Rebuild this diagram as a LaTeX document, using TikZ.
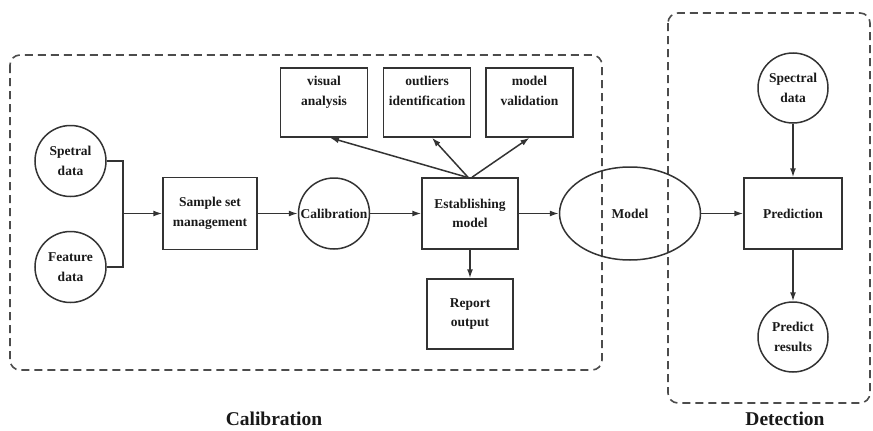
\documentclass[tikz,border=0pt]{standalone}
\usepackage{fontspec}
\setmainfont{Liberation Serif}
\usetikzlibrary{arrows.meta,shapes.geometric,calc}
\begin{document}
\begin{tikzpicture}[x=1pt,y=-1pt,
 every node/.style={font=\bfseries\fontsize{13.5}{19.5}\selectfont, text=black!90, align=center},
 ln/.style={draw=black!80, line width=1.5pt},
 arr/.style={ln, -{Latex[length=9pt,width=6pt]}},
 rbox/.style={ln, rectangle, inner sep=0pt},
 circ/.style={ln, circle, minimum size=71pt, inner sep=0pt},
 frame/.style={draw=black!70, line width=1.6pt, dash pattern=on 8pt off 5pt, rounded corners=10pt},
 big/.style={font=\bfseries\fontsize{19.5}{22}\selectfont, inner sep=0pt},
 toplbl/.style={label={[anchor=north, inner sep=0pt, yshift=-9pt]north:{#1}}}]
\useasboundingbox (0,0) rectangle (873,431);
\draw[frame] (10,55) rectangle (602,370);
\draw[frame] (668,13) rectangle (870,403);

\node[circ] (sp) at (70.5,161) {Spetral\\data};
\node[circ] (fd) at (70.5,267) {Feature\\data};
\node[rbox, minimum width=94pt, minimum height=72pt] (ssm) at (210,213.5) {Sample set\\management};
\node[circ] (cal) at (334,213.5) {Calibration};
\node[rbox, minimum width=96pt, minimum height=71pt] (est) at (470,213.5) {Establishing\\model};
\node[rbox, minimum width=86pt, minimum height=70pt] (rep) at (470,314) {Report\\output};
\node[rbox, minimum width=87pt, minimum height=69pt, toplbl={visual\\analysis}] (va) at (324,102.5) {};
\node[rbox, minimum width=87pt, minimum height=69pt, toplbl={outliers\\identification}] (oi) at (427,102.5) {};
\node[rbox, minimum width=87pt, minimum height=69pt, toplbl={model\\validation}] (mv) at (529.5,102.5) {};
\node[ln, ellipse, minimum width=141pt, minimum height=93pt, inner sep=0pt] (mod) at (630,213.5) {Model};
\node[rbox, minimum width=98pt, minimum height=71pt] (pred) at (793,213.5) {Prediction};
\node[circ, minimum size=70pt] (sd) at (793,88) {Spectral\\data};
\node[circ, minimum size=70pt] (pr) at (793,337) {Predict\\results};

\node[big] (lc) at (274,419) {Calibration};
\node[big] (ld) at (785,419) {Detection};

\coordinate (j) at (123,213.5);
\draw[ln] (sp.east) -| (j);
\draw[ln] (fd.east) -| (j);
\draw[arr] (j) -- (ssm.west);
\draw[arr] (ssm.east) -- (cal.west);
\draw[arr] (cal.east) -- (est.west);
\draw[arr] (est.east) -- (mod.west);
\draw[arr] (mod.east) -- (pred.west);
\draw[arr] (est.south) -- (rep.north);
\draw[arr] (sd.south) -- (pred.north);
\draw[arr] (pred.south) -- (pr.north);
\draw[arr] ($(est.north)+(-3,0)$) -- ($(va.south)+(6,0)$);
\draw[arr] ($(est.north)+(-2,0)$) -- ($(oi.south)+(5,0)$);
\draw[arr] ($(est.north)+(2,0)$) -- (mv.south);
\end{tikzpicture}
\end{document}
